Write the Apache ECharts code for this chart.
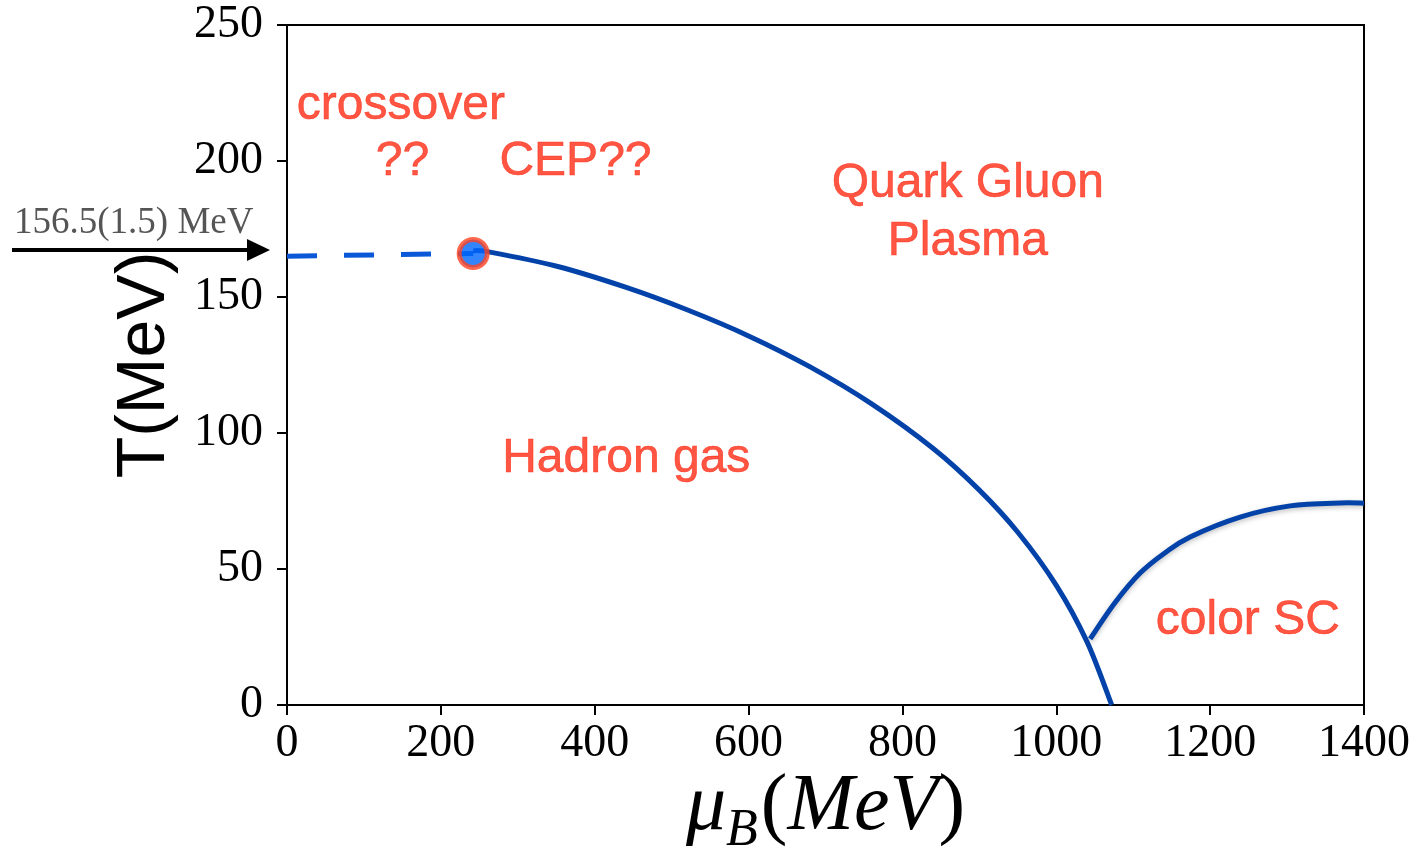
<!DOCTYPE html>
<html>
<head>
<meta charset="utf-8">
<script src="https://cdn.jsdelivr.net/npm/echarts@6/dist/echarts.min.js"></script>
<style>
  html, body { margin: 0; padding: 0; background: #fff; }
  #chart { width: 1416px; height: 851px; }
</style>
</head>
<body>
<div id="chart"></div>
<script>
// Crossover region (dashed) up to the critical end point
const crossoverMuB = [0, 242];
const crossoverT = [165, 166];

// Critical end point
const cepMuB = 242;
const cepT = 166;

// First-order transition line: hadron gas / quark gluon plasma
const transitionMuB = [242, 264, 352, 440, 520, 600, 680, 760, 840, 900, 950, 1000, 1040, 1072];
const transitionT = [167, 166.5, 161.2, 153.6, 145.3, 135.7, 124.3, 110.7, 94.3, 79.0, 63.5, 44.0, 23.2, 0];

// Boundary of the colour-superconducting phase
const colorScMuB = [1044, 1076, 1109, 1141, 1174, 1239, 1304, 1369, 1400];
const colorScT = [24.3, 37.5, 48.5, 55.9, 61.8, 69.1, 73.2, 74.3, 74.2];

// Region names and where they sit in (mu_B, T)
const regionLabels = ['crossover', '??', 'CEP??', 'Quark Gluon', 'Plasma', 'Hadron gas', 'color SC'];
const regionLabelMuB = [148, 150, 375, 885, 885, 441, 1249];
const regionLabelT = [220.3, 199.6, 199.6, 191.5, 170.2, 90.4, 30.9];

// Axis ticks
const xTicks = [0, 200, 400, 600, 800, 1000, 1200, 1400];
const yTicks = [0, 50, 100, 150, 200, 250];

const pairs = (xs, ys) => xs.map((x, i) => [x, ys[i]]);

const serif = '"Liberation Serif", "DejaVu Serif", serif';
const sans = '"Liberation Sans", Arial, Helvetica, sans-serif';
const red = '#ff2a14';
const curveBlue = '#0342a8';

// Smooth curve through data points: Catmull-Rom spline in pixel space,
// emitted as cubic Bezier segments.
function splinePath(pts) {
  let d = 'M' + pts[0][0] + ',' + pts[0][1];
  for (let i = 0; i < pts.length - 1; i++) {
    const p0 = pts[Math.max(i - 1, 0)];
    const p1 = pts[i];
    const p2 = pts[i + 1];
    const p3 = pts[Math.min(i + 2, pts.length - 1)];
    const c1x = p1[0] + (p2[0] - p0[0]) / 6, c1y = p1[1] + (p2[1] - p0[1]) / 6;
    const c2x = p2[0] - (p3[0] - p1[0]) / 6, c2y = p2[1] - (p3[1] - p1[1]) / 6;
    d += 'C' + c1x + ',' + c1y + ',' + c2x + ',' + c2y + ',' + p2[0] + ',' + p2[1];
  }
  return d;
}

function curveSeries(name, xs, ys, extraStyle) {
  return {
    name: name,
    type: 'custom',
    coordinateSystem: 'cartesian2d',
    data: [[xs[0], ys[0]]],
    silent: true,
    z: 3,
    renderItem: (params, api) => {
      const pts = xs.map((x, i) => api.coord([x, ys[i]]));
      return {
        type: 'path',
        shape: { pathData: splinePath(pts) },
        style: Object.assign({ fill: null, stroke: curveBlue, lineWidth: 5, lineCap: 'butt' }, extraStyle || {})
      };
    }
  };
}

const chart = echarts.init(document.getElementById('chart'), null, { renderer: 'canvas' });

chart.setOption({
  animation: false,
  backgroundColor: '#ffffff',
  grid: {
    left: 287, right: 52, top: 25, bottom: 146,
    containLabel: false,
    outerBoundsMode: 'none',
    show: true, borderColor: '#000', borderWidth: 2, backgroundColor: 'transparent'
  },
  xAxis: {
    type: 'value', min: xTicks[0], max: xTicks[xTicks.length - 1], interval: 200,
    axisLine: { show: true, onZero: false, lineStyle: { color: '#000', width: 2 } },
    axisTick: { show: true, inside: false, length: 10, lineStyle: { color: '#000', width: 2 } },
    splitLine: { show: false },
    axisLabel: { color: '#000', fontFamily: serif, fontSize: 46, margin: 16, formatter: v => String(v) },
    name: '{it|μ}{sub|B}{up|(}{it|MeV}{up|)}',
    nameLocation: 'middle',
    nameGap: 58,
    nameMoveOverlap: false,
    nameTextStyle: {
      rich: {
        it: { fontFamily: serif, fontStyle: 'italic', fontSize: 80, lineHeight: 90, color: '#000' },
        up: { fontFamily: serif, fontSize: 80, lineHeight: 90, color: '#000' },
        sub: { fontFamily: serif, fontStyle: 'italic', fontSize: 52, lineHeight: 52, padding: [46, 3, 0, 0], color: '#000' }
      }
    }
  },
  yAxis: {
    type: 'value', min: yTicks[0], max: yTicks[yTicks.length - 1], interval: 50,
    axisLine: { show: true, onZero: false, lineStyle: { color: '#000', width: 2 } },
    axisTick: { show: true, inside: false, length: 10, lineStyle: { color: '#000', width: 2 } },
    splitLine: { show: false },
    axisLabel: { color: '#000', fontFamily: serif, fontSize: 46, margin: 24, formatter: v => String(v) },
    name: 'T(MeV)',
    nameLocation: 'middle',
    nameGap: 108,
    nameMoveOverlap: false,
    nameRotate: 90,
    nameTextStyle: { fontFamily: sans, fontSize: 68, color: '#000' }
  },
  series: [
    {
      name: 'crossover',
      type: 'line',
      data: pairs(crossoverMuB, crossoverT),
      symbol: 'none',
      lineStyle: { color: '#0a58d8', width: 5, type: [30, 27] },
      z: 2
    },
    curveSeries('transition', transitionMuB, transitionT),
    curveSeries('color SC', colorScMuB, colorScT, {
      shadowColor: 'rgba(0,0,0,0.25)', shadowBlur: 5, shadowOffsetY: 2
    }),
    {
      name: 'CEP',
      type: 'scatter',
      data: [[cepMuB, cepT]],
      symbol: 'circle',
      symbolSize: 28,
      itemStyle: { color: '#0066ff', borderColor: '#ff4422', borderWidth: 5 },
      z: 5
    },
    {
      name: 'regions',
      type: 'scatter',
      data: regionLabels.map((t, i) => ({ value: [regionLabelMuB[i], regionLabelT[i]], name: t })),
      symbolSize: 0,
      silent: true,
      label: {
        show: true,
        position: 'inside',
        formatter: p => p.name,
        color: red,
        fontFamily: sans,
        fontSize: 48,
        textBorderColor: red,
        textBorderWidth: 0.6
      },
      z: 6
    }
  ],
  graphic: [
    {
      type: 'line',
      shape: { x1: 12, y1: 250, x2: 250, y2: 250 },
      style: { stroke: '#000', lineWidth: 4 }
    },
    {
      type: 'polygon',
      shape: { points: [[247, 239], [270, 250], [247, 261]] },
      style: { fill: '#000' }
    },
    {
      type: 'text',
      left: 14,
      top: 205,
      style: {
        text: '156.5(1.5) MeV',
        fill: '#555555',
        font: '37px ' + serif
      }
    }
  ]
});
</script>
</body>
</html>
